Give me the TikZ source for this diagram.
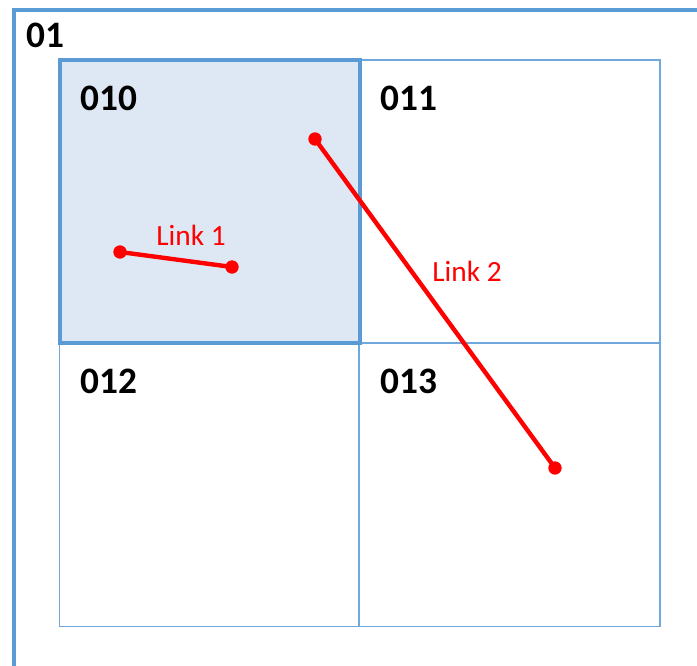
\documentclass[tikz,border=0pt]{standalone}
\usepackage{fontspec}
\setmainfont{Carlito}
\definecolor{frameblue}{HTML}{5B9BD5}
\definecolor{gridblue}{HTML}{6FA8DC}
\definecolor{cellfill}{HTML}{DEE8F4}
\definecolor{linkred}{HTML}{FF0000}
\tikzset{
  outerframe/.style={draw=frameblue, line width=3.2pt},
  gridline/.style={draw=gridblue, line width=0.9pt},
  activecell/.style={draw=frameblue, line width=3pt},
  celllabel/.style={anchor=base west, inner sep=0pt, font=\fontsize{28}{32}\selectfont\bfseries},
  linkline/.style={draw=linkred, line width=3.3pt},
  linkend/.style={circle, fill=linkred, inner sep=0pt, minimum size=10pt},
  linklabel/.style={inner sep=0pt, text=linkred, font=\fontsize{22}{26}\selectfont}
}
\begin{document}
\begin{tikzpicture}[x=0.75pt, y=-0.75pt]
  \useasboundingbox (0,0) rectangle (697,665);
  % outer region 01 (only its top and left sides are visible)
  \draw[outerframe] (14,667) -- (14,10) -- (699,10);
  % highlighted quadrant 010
  \fill[cellfill] (60,60) rectangle (360,343);
  % 2x2 grid of sub-quadrants
  \draw[gridline] (59.5,60) rectangle (660,626.5);
  \draw[gridline] (359,60) -- (359,626.5);
  \draw[gridline] (59.5,343) -- (660,343);
  \draw[activecell] (60,60) rectangle (360,343);
  % quadrant labels
  \node[celllabel] (q01)  at (26,47)   {01};
  \node[celllabel] (q010) at (80,110)  {010};
  \node[celllabel] (q011) at (380,110) {011};
  \node[celllabel] (q012) at (80,393)  {012};
  \node[celllabel] (q013) at (380,393) {013};
  % link 1, inside 010
  \node[linkend] (l1a) at (120,252) {};
  \node[linkend] (l1b) at (232,267) {};
  \draw[linkline] (l1a.center) -- (l1b.center);
  \node[linklabel] (l1t) at (191,235) {Link 1};
  % link 2, crossing from 010 into 013
  \node[linkend] (l2a) at (315,139) {};
  \node[linkend] (l2b) at (555,468) {};
  \draw[linkline] (l2a.center) -- (l2b.center);
  \node[linklabel] (l2t) at (467,271) {Link 2};
\end{tikzpicture}
\end{document}
